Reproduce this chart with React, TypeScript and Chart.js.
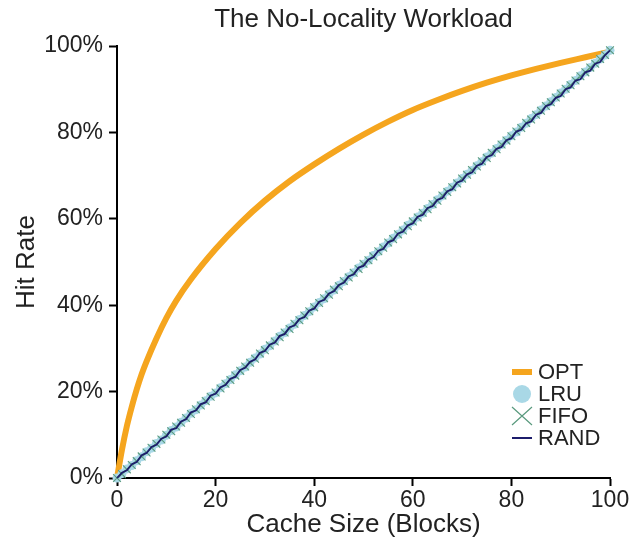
import React, { useEffect, useRef } from "react";
import { Chart, registerables } from "chart.js";

Chart.register(...registerables);

const cacheSizes = [
  0, 1, 2, 3, 4, 5, 6, 7, 8, 9, 10, 11, 12, 13, 14, 15, 16, 17, 18, 19, 20,
  21, 22, 23, 24, 25, 26, 27, 28, 29, 30, 31, 32, 33, 34, 35, 36, 37, 38, 39, 40,
  41, 42, 43, 44, 45, 46, 47, 48, 49, 50, 51, 52, 53, 54, 55, 56, 57, 58, 59, 60,
  61, 62, 63, 64, 65, 66, 67, 68, 69, 70, 71, 72, 73, 74, 75, 76, 77, 78, 79, 80,
  81, 82, 83, 84, 85, 86, 87, 88, 89, 90, 91, 92, 93, 94, 95, 96, 97, 98, 99, 100,
];

const lruHitRates = [
  0, 1.0, 2.1, 2.9, 4.0, 4.9, 6.1, 6.9, 8.0, 8.8, 9.9, 11.0, 11.8, 12.9, 13.9, 15.0, 15.8, 16.9, 17.9, 18.9, 19.7,
  20.9, 21.8, 22.8, 23.9, 24.8, 25.7, 26.8, 27.8, 28.7, 29.8, 30.6, 31.7, 32.8, 33.6, 34.7, 35.6, 36.7, 37.6, 38.5, 39.6,
  40.6, 41.5, 42.6, 43.5, 44.6, 45.5, 46.6, 47.5, 48.6, 49.5, 50.4, 51.5, 52.4, 53.5, 54.4, 55.5, 56.4, 57.4, 58.5, 59.4,
  60.4, 61.3, 62.4, 63.3, 64.4, 65.3, 66.4, 67.3, 68.3, 69.3, 70.3, 71.2, 72.3, 73.2, 74.3, 75.2, 76.3, 77.2, 78.2, 79.2,
  80.1, 81.2, 82.1, 83.2, 84.1, 85.2, 86.1, 87.1, 88.1, 89.1, 90.0, 91.1, 92.0, 93.1, 94.0, 95.0, 96.0, 97.0, 97.9, 99.0,
];

const fifoHitRates = [
  0, 0.9, 2.0, 3.0, 3.9, 5.0, 5.9, 7.0, 7.9, 8.9, 10.0, 10.8, 11.9, 12.8, 13.9, 14.8, 15.9, 16.8, 17.8, 18.8, 19.8,
  20.7, 21.8, 22.7, 23.7, 24.8, 25.8, 26.7, 27.6, 28.8, 29.6, 30.7, 31.6, 32.6, 33.7, 34.5, 35.7, 36.5, 37.6, 38.6, 39.5,
  40.5, 41.6, 42.4, 43.6, 44.4, 45.6, 46.4, 47.5, 48.4, 49.6, 50.4, 51.3, 52.5, 53.3, 54.5, 55.3, 56.4, 57.3, 58.3, 59.4,
  60.3, 61.4, 62.2, 63.4, 64.2, 65.4, 66.2, 67.3, 68.2, 69.3, 70.2, 71.3, 72.1, 73.3, 74.1, 75.3, 76.1, 77.2, 78.1, 79.1,
  80.2, 81.0, 82.2, 83.0, 84.1, 85.0, 86.1, 87.0, 88.1, 89.0, 90.1, 90.9, 92.0, 93.0, 93.9, 95.0, 95.9, 97.0, 97.9, 99.0,
];

const randHitRates = [
  0, 1.2, 1.8, 3.2, 3.7, 5.3, 5.8, 7.2, 7.7, 9.1, 9.6, 11.2, 11.5, 13.1, 13.6, 15.2, 15.6, 17.1, 17.5, 19.1, 19.5,
  21.0, 21.5, 23.0, 23.4, 25.0, 25.5, 26.9, 27.4, 29.0, 29.4, 30.9, 31.3, 32.9, 33.3, 34.9, 35.3, 36.8, 37.2, 38.8, 39.2,
  40.8, 41.2, 42.7, 43.2, 44.7, 45.2, 46.7, 47.1, 48.7, 49.1, 50.6, 51.1, 52.6, 53.0, 54.6, 55.0, 56.6, 57.0, 58.5, 58.9,
  60.5, 60.9, 62.5, 62.9, 64.4, 64.8, 66.4, 66.8, 68.4, 68.8, 70.3, 70.7, 72.3, 72.7, 74.3, 74.7, 76.2, 76.6, 78.2, 78.6,
  80.2, 80.6, 82.1, 82.5, 84.1, 84.5, 86.1, 86.5, 88.0, 88.4, 90.0, 90.4, 92.0, 92.3, 93.9, 94.3, 95.9, 96.3, 97.9, 99.0,
];

const optSizes = [0, 1, 2, 3, 4, 5, 6, 8, 10, 12, 15, 20, 25, 30, 35, 40, 45, 50, 55, 60, 65, 70, 75, 80, 85, 90, 95, 100];
const optHitRates = [0, 6.5, 12, 16.5, 20.5, 24, 27, 32.3, 37, 41, 46, 53, 59, 64.2, 68.7, 72.6, 76.2, 79.5, 82.5, 85.2, 87.5, 89.6, 91.5, 93.2, 94.7, 96.1, 97.4, 98.7];

const xTicks = [0, 20, 40, 60, 80, 100];
const yTicks = [0, 20, 40, 60, 80, 100];

const seriesNames = ["OPT", "LRU", "FIFO", "RAND"];

const FONT = "'Liberation Sans', Arial, Helvetica, sans-serif";
const ORANGE = "#f5a51e";
const LIGHTBLUE = "#a9d8e6";
const GREEN = "#5a9a7e";
const NAVY = "#1c1c6b";

const legendPlugin = {
  id: "customLegend",
  afterDraw(chart: any) {
    const ctx = chart.ctx;
    const x0 = 512;
    const symW = 20;
    const textX = 538;
    const ys = [372, 394, 416, 438];
    ctx.save();
    ctx.font = `22px ${FONT}`;
    ctx.textBaseline = "middle";
    ctx.textAlign = "left";
    ctx.fillStyle = ORANGE;
    ctx.fillRect(x0, ys[0] - 3, symW, 6);
    ctx.beginPath();
    ctx.fillStyle = LIGHTBLUE;
    ctx.arc(x0 + symW / 2, ys[1], 9, 0, Math.PI * 2);
    ctx.fill();
    ctx.beginPath();
    ctx.strokeStyle = GREEN;
    ctx.lineWidth = 1.2;
    ctx.moveTo(x0, ys[2] - 9);
    ctx.lineTo(x0 + symW, ys[2] + 9);
    ctx.moveTo(x0 + symW, ys[2] - 9);
    ctx.lineTo(x0, ys[2] + 9);
    ctx.stroke();
    ctx.fillStyle = NAVY;
    ctx.fillRect(x0, ys[3] - 1, symW, 2);
    ctx.fillStyle = "#222";
    seriesNames.forEach((n, i) => ctx.fillText(n, textX, ys[i] + 1));
    ctx.restore();
  },
};

export default function App() {
  const ref = useRef<HTMLCanvasElement | null>(null);
  useEffect(() => {
    if (!ref.current) return;
    const pts = (ys: number[]) => cacheSizes.map((x, i) => ({ x, y: ys[i] }));
    const chart = new Chart(ref.current, {
      type: "line",
      data: {
        datasets: [
          {
            label: seriesNames[0],
            data: optSizes.map((x, i) => ({ x, y: optHitRates[i] })),
            borderColor: ORANGE,
            backgroundColor: ORANGE,
            borderWidth: 6,
            pointRadius: 0,
            cubicInterpolationMode: "monotone",
            clip: false,
            order: 3,
          },
          {
            label: seriesNames[1],
            data: pts(lruHitRates),
            showLine: false,
            pointStyle: "circle",
            pointRadius: 4.5,
            pointBorderWidth: 0,
            pointBackgroundColor: LIGHTBLUE,
            borderColor: LIGHTBLUE,
            clip: false,
            order: 2,
          },
          {
            label: seriesNames[2],
            data: pts(fifoHitRates),
            showLine: false,
            pointStyle: "crossRot",
            pointRadius: 5.5,
            pointBorderWidth: 1.1,
            pointBorderColor: GREEN,
            borderColor: GREEN,
            clip: false,
            order: 1,
          },
          {
            label: seriesNames[3],
            data: pts(randHitRates),
            borderColor: NAVY,
            borderWidth: 1.8,
            pointRadius: 0,
            tension: 0,
            clip: false,
            order: 0,
          },
        ],
      },
      options: {
        animation: false,
        responsive: false,
        maintainAspectRatio: false,
        layout: { padding: { left: 0, right: 24, top: 0, bottom: 0 } },
        plugins: {
          legend: { display: false },
          tooltip: { enabled: false },
          title: {
            display: true,
            text: "The No-Locality Workload",
            fullSize: false,
            color: "#222",
            font: { family: FONT, size: 26, weight: "normal", lineHeight: 1 },
            padding: { top: 7, bottom: 13 },
          },
        },
        scales: {
          x: {
            type: "linear",
            min: 0,
            max: 100,
            afterFit: (s: any) => {
              s.height = 63;
            },
            afterBuildTicks: (s: any) => {
              s.ticks = xTicks.map((v) => ({ value: v }));
            },
            grid: {
              display: true,
              drawOnChartArea: false,
              drawTicks: true,
              tickLength: 8,
              tickWidth: 2,
              tickColor: "#000",
            },
            border: { display: true, color: "#000", width: 2 },
            ticks: {
              color: "#222",
              font: { family: FONT, size: 23, lineHeight: 1 },
              padding: 3,
              maxRotation: 0,
              autoSkip: false,
            },
            title: {
              display: true,
              text: "Cache Size (Blocks)",
              color: "#222",
              font: { family: FONT, size: 26, lineHeight: 1 },
              padding: { top: 0, bottom: 3 },
            },
          },
          y: {
            type: "linear",
            min: 0,
            max: 100,
            afterFit: (s: any) => {
              s.width = 117;
            },
            afterBuildTicks: (s: any) => {
              s.ticks = yTicks.map((v) => ({ value: v }));
            },
            grid: {
              display: true,
              drawOnChartArea: false,
              drawTicks: true,
              tickLength: 8,
              tickWidth: 2,
              tickColor: "#000",
            },
            border: { display: true, color: "#000", width: 2 },
            ticks: {
              color: "#222",
              font: { family: FONT, size: 23, lineHeight: 1 },
              padding: 6,
              autoSkip: false,
              callback: (v: any) => `${v}%`,
            },
            title: {
              display: true,
              text: "Hit Rate",
              color: "#222",
              font: { family: FONT, size: 26, lineHeight: 1 },
              padding: { top: 14, bottom: 0 },
            },
          },
        },
      },
      plugins: [legendPlugin],
    } as any);
    return () => chart.destroy();
  }, []);
  return (
    <div style={{ position: "absolute", left: 0, top: 0, width: 634, height: 541, background: "#fff" }}>
      <canvas ref={ref} width={634} height={541} style={{ width: 634, height: 541 }} />
    </div>
  );
}
